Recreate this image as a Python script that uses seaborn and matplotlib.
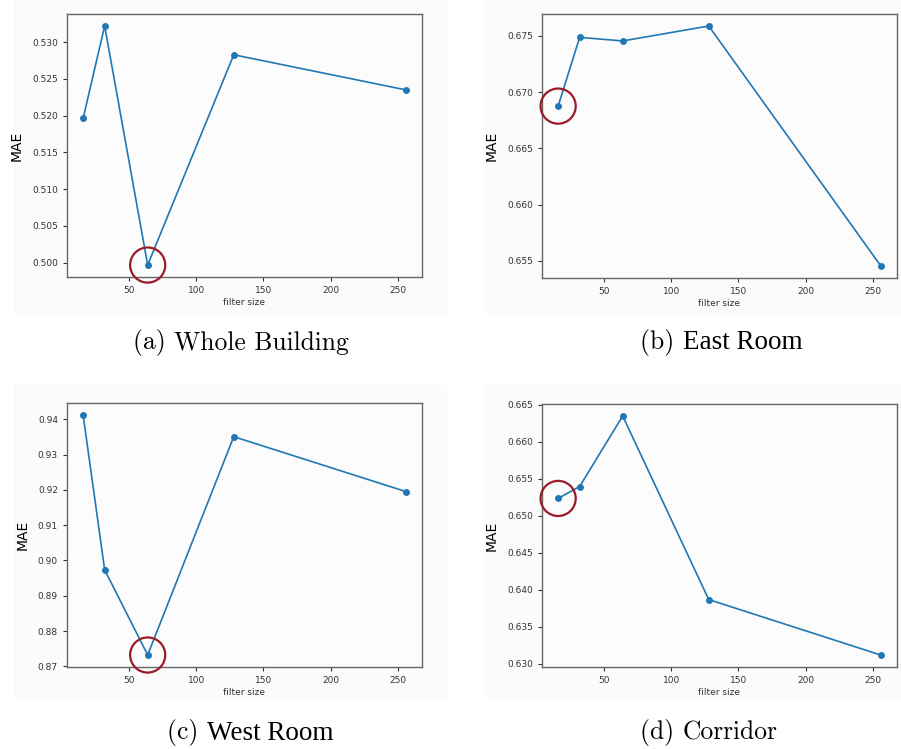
import matplotlib
matplotlib.use("Agg")
import matplotlib.pyplot as plt
from matplotlib.patches import Rectangle
import seaborn as sns
import pandas as pd

filter_sizes = [16, 32, 64, 128, 256]
mae_whole = [0.51964, 0.53221, 0.49968, 0.52829, 0.52351]
mae_east = [0.66876, 0.67488, 0.67456, 0.67589, 0.65453]
mae_west = [0.94123, 0.89736, 0.87321, 0.93509, 0.91953]
mae_corridor = [0.65233, 0.65394, 0.66348, 0.63866, 0.63116]
cap_labels = ["(a)", "(b)", "(c)", "(d)"]
cap_names = ["Whole Building", "East Room", "West Room", "Corridor"]
best_index = [2, 0, 2, 0]

W, H = 901, 749
fig = plt.figure(figsize=(W / 100, H / 100), dpi=100)
fig.patch.set_facecolor("white")

# light panel backgrounds (screenshot regions)
for (x0, y0, x1, y1) in [(14, 0, 447, 315), (485, 0, 901, 315),
                         (14, 385, 447, 700), (485, 385, 901, 700)]:
    r = Rectangle((x0 / W, 1 - y1 / H), (x1 - x0) / W, (y1 - y0) / H,
                  transform=fig.transFigure, facecolor="#fbfbfb",
                  edgecolor="none", zorder=-10)
    fig.add_artist(r)

boxes = [(67, 14, 422, 277), (542, 14, 897, 278), (67, 403, 422, 667), (542, 404, 897, 667)]
series = [mae_whole, mae_east, mae_west, mae_corridor]
cap_left = [133, 640, 167, 640]
cap_y = [343, 343, 733, 733]
name_font = ["cmr10", "Liberation Serif", "Liberation Serif", "cmr10"]
yfmt = ["%.3f", "%.3f", "%.2f", "%.3f"]

renderer = fig.canvas.get_renderer()
for box, vals, lab, name, cx, cy, nf, bi, fmt in zip(boxes, series, cap_labels, cap_names,
                                                     cap_left, cap_y, name_font, best_index, yfmt):
    x0, y0, x1, y1 = box
    ax = fig.add_axes([x0 / W, 1 - y1 / H, (x1 - x0) / W, (y1 - y0) / H])
    ax.set_facecolor("#fcfcfc")
    df = pd.DataFrame({"filter size": filter_sizes, "MAE": vals})
    sns.lineplot(data=df, x="filter size", y="MAE", ax=ax, color="#1f77b4",
                 marker="o", markersize=5, markeredgewidth=0, linewidth=1.2)
    ax.scatter([filter_sizes[bi]], [vals[bi]], s=640, facecolors="none",
               edgecolors="#9b1b2a", linewidths=1.6, zorder=5, clip_on=False)
    ax.margins(x=0.05, y=0.05)
    ax.set_xticks([50, 100, 150, 200, 250])
    ax.yaxis.set_major_formatter(matplotlib.ticker.FormatStrFormatter(fmt))
    ax.tick_params(labelsize=6.5, colors="#333333", length=3, width=0.8)
    for s in ax.spines.values():
        s.set_color("#666666")
        s.set_linewidth(1.0)
    ax.set_xlabel("filter size", fontsize=6.5, color="#333333", labelpad=2)
    ax.set_ylabel("MAE", fontsize=10, color="black", labelpad=6)
    t1 = fig.text(cx / W, 1 - cy / H, lab + " ", ha="left", va="center",
                  fontsize=18.4, family="cmr10", color="black")
    bb = t1.get_window_extent(renderer=renderer)
    fs = 18.4 if nf == "cmr10" else 19.5
    fig.text(bb.x1 / W, 1 - cy / H, name, ha="left", va="center",
             fontsize=fs, family=nf, color="black")

fig.savefig("out.png", dpi=100)
